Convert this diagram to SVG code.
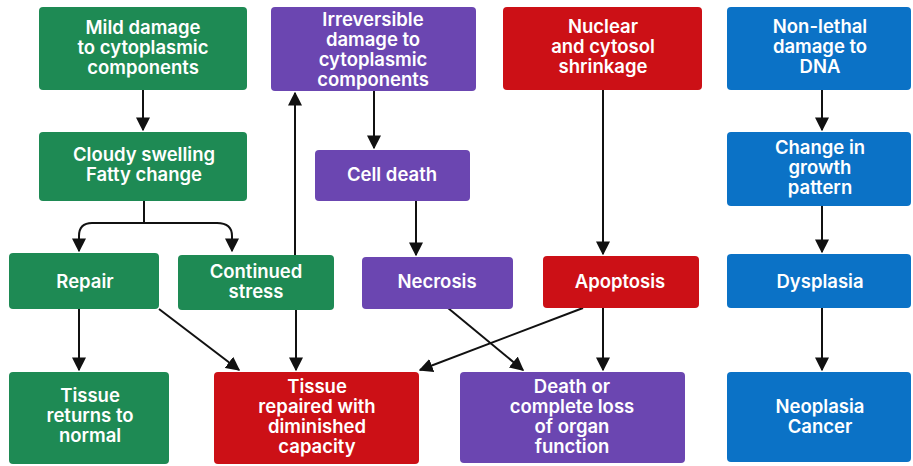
<svg xmlns="http://www.w3.org/2000/svg" width="913" height="466" viewBox="0 0 913 466">
<style>
.g{fill:#1e8a54}.p{fill:#6b46b1}.r{fill:#cc1016}.b{fill:#0b72c6}
text{font-family:Inter,"Liberation Sans",Arial,sans-serif;font-weight:600;font-size:18.5px;fill:#fff;text-anchor:middle}
.c{stroke:#111;stroke-width:2;fill:none}
</style>
<defs>
<marker id="ah" viewBox="0 0 10 10" refX="9" refY="5" markerWidth="7" markerHeight="7" markerUnits="strokeWidth" orient="auto">
<path d="M0,0 L10,5 L0,10 z" fill="#111"/>
</marker>
</defs>
<rect width="913" height="466" fill="#fff"/>
<g id="connectors">
<path class="c" d="M143,90 V130" marker-end="url(#ah)"/>
<path class="c" d="M144,201 V223 M92,223 H217 M92,223 Q79,223 79,236 V251 M217,223 Q232,223 232,236 V251" />
<path class="c" d="M79,238 V251" marker-end="url(#ah)"/>
<path class="c" d="M232,238 V251" marker-end="url(#ah)"/>
<path class="c" d="M295,255 V93" marker-end="url(#ah)"/>
<path class="c" d="M374,91 V148" marker-end="url(#ah)"/>
<path class="c" d="M416,201 V255" marker-end="url(#ah)"/>
<path class="c" d="M603,90 V254" marker-end="url(#ah)"/>
<path class="c" d="M822,90 V130" marker-end="url(#ah)"/>
<path class="c" d="M822,206 V252" marker-end="url(#ah)"/>
<path class="c" d="M822,308 V370" marker-end="url(#ah)"/>
<path class="c" d="M79,309 V370" marker-end="url(#ah)"/>
<path class="c" d="M159,309 L239,370" marker-end="url(#ah)"/>
<path class="c" d="M296,310 V370" marker-end="url(#ah)"/>
<path class="c" d="M448,308 L523,370" marker-end="url(#ah)"/>
<path class="c" d="M583,308 L420,370" marker-end="url(#ah)"/>
<path class="c" d="M603,308 V370" marker-end="url(#ah)"/>
</g>
<g id="mild"><rect class="g" x="39" y="7" width="208" height="83" rx="4"/><text x="143" y="34">Mild damage</text><text x="143" y="54">to cytoplasmic</text><text x="143" y="74">components</text></g>
<g id="cloudy"><rect class="g" x="39" y="132" width="208" height="69" rx="4"/><text x="144" y="161">Cloudy swelling</text><text x="144" y="181">Fatty change</text></g>
<g id="irreversible"><rect class="p" x="271" y="7" width="205" height="84" rx="4"/><text x="373" y="26">Irreversible</text><text x="373" y="46">damage to</text><text x="373" y="66">cytoplasmic</text><text x="373" y="86">components</text></g>
<g id="celldeath"><rect class="p" x="315" y="150" width="155" height="51" rx="4"/><text x="392" y="181">Cell death</text></g>
<g id="nuclear"><rect class="r" x="503" y="7" width="199" height="83" rx="4"/><text x="603" y="33">Nuclear</text><text x="603" y="53">and cytosol</text><text x="603" y="73">shrinkage</text></g>
<g id="nonlethal"><rect class="b" x="727" y="7" width="184" height="83" rx="4"/><text x="820" y="33">Non-lethal</text><text x="820" y="53">damage to</text><text x="820" y="73">DNA</text></g>
<g id="growth"><rect class="b" x="727" y="132" width="184" height="74" rx="4"/><text x="820" y="154">Change in</text><text x="820" y="174">growth</text><text x="820" y="194">pattern</text></g>
<g id="repair"><rect class="g" x="9" y="253" width="150" height="56" rx="4"/><text x="85" y="288">Repair</text></g>
<g id="continued"><rect class="g" x="178" y="255" width="156" height="55" rx="4"/><text x="256" y="278">Continued</text><text x="256" y="298">stress</text></g>
<g id="necrosis"><rect class="p" x="362" y="257" width="151" height="52" rx="4"/><text x="437" y="288">Necrosis</text></g>
<g id="apoptosis"><rect class="r" x="543" y="256" width="156" height="52" rx="4"/><text x="620" y="288">Apoptosis</text></g>
<g id="dysplasia"><rect class="b" x="727" y="254" width="184" height="54" rx="4"/><text x="820" y="288">Dysplasia</text></g>
<g id="returns"><rect class="g" x="9" y="372" width="160" height="92" rx="4"/><text x="90" y="402">Tissue</text><text x="90" y="422">returns to</text><text x="90" y="442">normal</text></g>
<g id="repaired"><rect class="r" x="214" y="372" width="205" height="92" rx="4"/><text x="317" y="393">Tissue</text><text x="317" y="413">repaired with</text><text x="317" y="433">diminished</text><text x="317" y="453">capacity</text></g>
<g id="death"><rect class="p" x="460" y="372" width="225" height="91" rx="4"/><text x="572" y="393">Death or</text><text x="572" y="413">complete loss</text><text x="572" y="433">of organ</text><text x="572" y="453">function</text></g>
<g id="neoplasia"><rect class="b" x="727" y="372" width="184" height="90" rx="4"/><text x="820" y="413">Neoplasia</text><text x="820" y="433">Cancer</text></g>
</svg>
